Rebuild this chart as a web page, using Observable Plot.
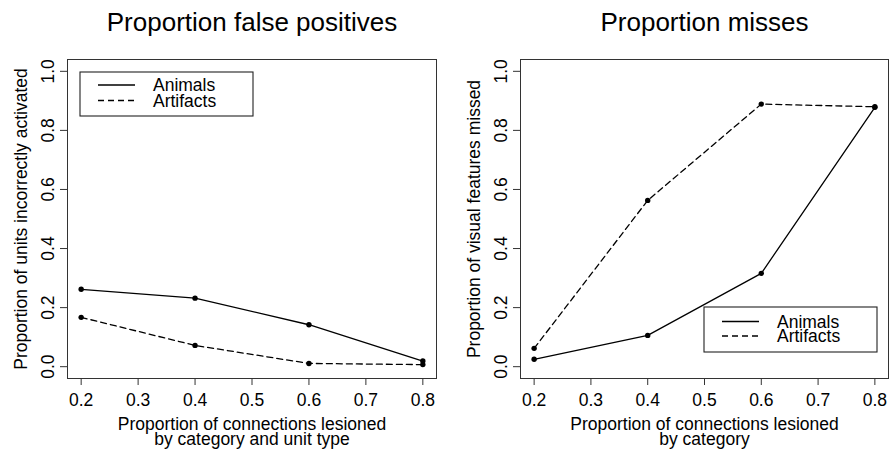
<!DOCTYPE html>
<html>
<head>
<meta charset="utf-8">
<script src="https://cdn.jsdelivr.net/npm/d3@7"></script>
<script src="https://cdn.jsdelivr.net/npm/@observablehq/plot@0.6"></script>
<style>
  html, body { margin: 0; padding: 0; background: #fff; }
  #chart { position: relative; width: 889px; height: 454px; overflow: hidden; font-family: "Liberation Sans", Arial, Helvetica, sans-serif; }
  #chart > .panel { position: absolute; top: 0; }
  #chart > svg.legend { position: absolute; }
</style>
</head>
<body>
<div id="chart"></div>
<script>
// ---- data ----
const lesion = [0.2, 0.4, 0.6, 0.8];
const seriesNames = ["Animals", "Artifacts"];
const fpAnimals = [0.262, 0.232, 0.142, 0.019];
const fpArtifacts = [0.167, 0.072, 0.011, 0.007];
const missAnimals = [0.025, 0.106, 0.316, 0.878];
const missArtifacts = [0.062, 0.563, 0.889, 0.880];
const xTicks = [0.2, 0.3, 0.4, 0.5, 0.6, 0.7, 0.8];
const yTicks = [0, 0.2, 0.4, 0.6, 0.8, 1.0];
const titles = ["Proportion false positives", "Proportion misses"];
const yLabels = ["Proportion of units incorrectly activated", "Proportion of visual features missed"];
const xLabels = ["Proportion of connections lesioned\nby category and unit type", "Proportion of connections lesioned\nby category"];

const FONT = "\"Liberation Sans\", Arial, Helvetica, sans-serif";
const dashes = {Animals: null, Artifacts: "6,4"};

function table(a, b) {
  return [
    ...lesion.map((x, i) => ({x, y: a[i], series: seriesNames[0]})),
    ...lesion.map((x, i) => ({x, y: b[i], series: seriesNames[1]}))
  ];
}

function panel({data, title, yLabel, xLabel, width, marginLeft, marginRight}) {
  return Plot.plot({
    width, height: 454,
    marginLeft, marginRight, marginTop: 59, marginBottom: 76,
    style: {fontFamily: FONT, fontSize: "17.5px", background: "white", color: "black", overflow: "visible"},
    x: {domain: [0.176, 0.824]},
    y: {domain: [-0.04, 1.04]},
    marks: [
      Plot.frame({stroke: "#333", strokeWidth: 1}),
      Plot.axisX({ticks: xTicks, tickFormat: d3.format(".1f"), tickSize: 7, tickPadding: 8, fontSize: 17.5, label: null, stroke: "#333"}),
      Plot.axisY({ticks: yTicks, tickFormat: d3.format(".1f"), tickSize: 7, tickPadding: 7, tickRotate: -90, fontSize: 17.5, label: null, stroke: "#333"}),
      ...seriesNames.map(s => Plot.line(data.filter(d => d.series === s), {x: "x", y: "y", stroke: "black", strokeWidth: 1.3, strokeDasharray: dashes[s]})),
      Plot.dot(data, {x: "x", y: "y", r: 2.7, fill: "black", stroke: null}),
      Plot.text([title], {frameAnchor: "top", lineAnchor: "middle", dy: -37, fontSize: 26, text: d => d}),
      Plot.text([xLabel], {frameAnchor: "bottom", lineAnchor: "top", textAnchor: "middle", dy: 41, fontSize: 17.5, lineHeight: 0.85, text: d => d}),
      Plot.text([yLabel], {frameAnchor: "left", textAnchor: "middle", lineAnchor: "middle", rotate: -90, dx: -46, fontSize: 17.5, text: d => d})
    ]
  });
}

const chart = document.getElementById("chart");

const left = panel({data: table(fpAnimals, fpArtifacts), title: titles[0], yLabel: yLabels[0], xLabel: xLabels[0], width: 444, marginLeft: 67, marginRight: 8});
left.classList.add("panel");
left.style.left = "0px";
chart.appendChild(left);

const right = panel({data: table(missAnimals, missArtifacts), title: titles[1], yLabel: yLabels[1], xLabel: xLabels[1], width: 445, marginLeft: 76, marginRight: 1});
right.classList.add("panel");
right.style.left = "444px";
chart.appendChild(right);

// legends (R-style boxed legend)
function legend({left, top, w, h, lineX0, lineX1, rowY, textX}) {
  const svg = d3.create("svg")
    .attr("class", "legend")
    .attr("width", w + 2).attr("height", h + 2)
    .style("left", (left - 1) + "px").style("top", (top - 1) + "px");
  svg.append("rect").attr("x", 1).attr("y", 1).attr("width", w).attr("height", h)
    .attr("fill", "white").attr("stroke", "#222").attr("stroke-width", 1.1);
  seriesNames.forEach((s, i) => {
    svg.append("line")
      .attr("x1", lineX0 - left + 1).attr("x2", lineX1 - left + 1)
      .attr("y1", rowY[i] - top + 1).attr("y2", rowY[i] - top + 1)
      .attr("stroke", "black").attr("stroke-width", 1.3)
      .attr("stroke-dasharray", dashes[s]);
    svg.append("text")
      .attr("x", textX - left + 1).attr("y", rowY[i] - top + 1)
      .attr("dy", "0.35em")
      .attr("font-family", FONT).attr("font-size", 17.5)
      .text(s);
  });
  chart.appendChild(svg.node());
}
legend({left: 80, top: 72, w: 173, h: 44, lineX0: 98, lineX1: 135, rowY: [85, 100.5], textX: 153});
legend({left: 704, top: 307, w: 173, h: 45, lineX0: 722, lineX1: 759, rowY: [321.5, 336], textX: 777});
</script>
</body>
</html>
